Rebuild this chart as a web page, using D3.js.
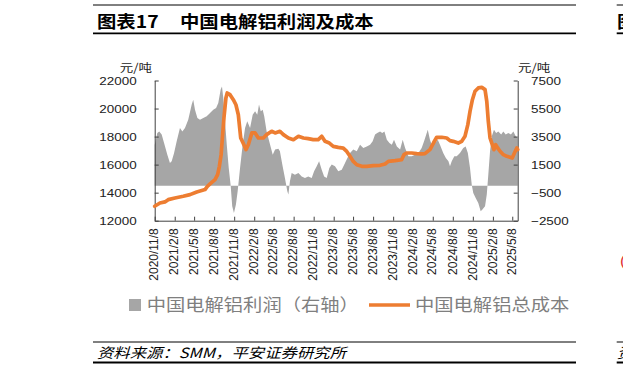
<!DOCTYPE html>
<html><head><meta charset="utf-8">
<script src="https://cdn.jsdelivr.net/npm/d3@7"></script>
<style>body{margin:0;background:#fff;} svg{display:block;}</style>
</head><body><svg id="c" width="623" height="374"></svg>
<script>
// ---------- data ----------
const costDates = ["2020-11-08","2020-12-02","2020-12-25","2021-01-09","2021-02-09","2021-03-19","2021-04-19","2021-05-20","2021-06-27","2021-07-08","2021-07-20","2021-08-12","2021-08-24","2021-09-01","2021-09-09","2021-09-16","2021-09-22","2021-10-01","2021-10-07","2021-10-20","2021-11-04","2021-11-16","2021-11-27","2021-12-08","2021-12-20","2022-01-01","2022-01-12","2022-01-28","2022-02-12","2022-02-27","2022-03-22","2022-04-06","2022-04-29","2022-05-15","2022-06-06","2022-06-22","2022-07-15","2022-08-07","2022-08-30","2022-09-22","2022-10-14","2022-11-06","2022-11-29","2022-12-15","2022-12-30","2023-01-19","2023-02-06","2023-03-01","2023-03-24","2023-04-09","2023-04-24","2023-05-09","2023-05-25","2023-06-17","2023-07-10","2023-08-09","2023-09-09","2023-10-02","2023-10-17","2023-11-17","2023-12-17","2023-12-28","2024-01-09","2024-02-01","2024-02-24","2024-03-18","2024-04-02","2024-04-25","2024-05-11","2024-05-26","2024-06-18","2024-07-11","2024-07-26","2024-08-10","2024-09-02","2024-09-18","2024-10-03","2024-10-16","2024-10-26","2024-11-06","2024-11-18","2024-12-03","2024-12-19","2025-01-03","2025-01-11","2025-01-18","2025-01-26","2025-02-03","2025-02-13","2025-02-21","2025-03-02","2025-03-13","2025-03-28","2025-04-13","2025-04-28","2025-05-08","2025-05-18","2025-05-29","2025-06-02"];
const costValues = [13030,13260,13340,13500,13620,13740,13860,14050,14220,14450,14620,14930,15290,15880,16710,18140,19330,20750,21110,20990,20630,20270,19560,17900,17500,17070,17420,18260,18260,17900,17900,18140,18380,18260,18380,18140,17900,17780,18020,17900,17850,17780,17780,18020,17660,17540,17300,17230,17180,16940,16590,16230,15990,15880,15880,15930,15950,16050,16230,16280,16350,16710,16830,16830,16780,16760,16780,17070,17540,17950,17950,17900,17710,17660,17540,17660,18020,18850,19800,20630,21230,21470,21510,21350,20510,19090,17900,17540,17070,17420,17190,16950,16710,16590,16520,16470,16830,17190,17070];

const profitDates = ["2020-11-08","2020-11-20","2020-11-29","2020-12-10","2020-12-21","2021-01-05","2021-01-17","2021-01-25","2021-02-05","2021-02-17","2021-03-04","2021-03-15","2021-03-27","2021-04-11","2021-04-27","2021-05-04","2021-05-12","2021-05-23","2021-06-04","2021-06-19","2021-07-05","2021-07-20","2021-08-04","2021-08-17","2021-08-27","2021-09-07","2021-09-13","2021-09-19","2021-09-27","2021-10-05","2021-10-14","2021-10-23","2021-10-30","2021-11-07","2021-11-16","2021-11-24","2021-12-05","2021-12-17","2021-12-28","2022-01-07","2022-01-20","2022-02-01","2022-02-12","2022-02-22","2022-03-02","2022-03-10","2022-03-19","2022-03-26","2022-04-06","2022-04-22","2022-05-04","2022-05-15","2022-05-30","2022-06-06","2022-06-17","2022-06-29","2022-07-10","2022-07-15","2022-07-22","2022-07-30","2022-08-14","2022-08-30","2022-09-14","2022-09-29","2022-10-14","2022-10-30","2022-11-10","2022-11-22","2022-12-03","2022-12-15","2022-12-26","2023-01-07","2023-01-19","2023-01-30","2023-02-14","2023-03-01","2023-03-17","2023-04-01","2023-04-12","2023-04-24","2023-05-09","2023-05-25","2023-06-09","2023-06-24","2023-07-10","2023-07-25","2023-08-06","2023-08-17","2023-08-27","2023-09-09","2023-09-19","2023-09-29","2023-10-10","2023-10-22","2023-11-02","2023-11-12","2023-11-25","2023-12-10","2023-12-22","2024-01-02","2024-01-17","2024-02-01","2024-02-17","2024-03-03","2024-03-18","2024-03-29","2024-04-15","2024-04-25","2024-05-03","2024-05-18","2024-05-31","2024-06-10","2024-06-25","2024-07-07","2024-07-19","2024-07-26","2024-08-03","2024-08-15","2024-08-26","2024-09-10","2024-09-25","2024-10-06","2024-10-16","2024-10-26","2024-11-03","2024-11-10","2024-11-21","2024-12-03","2024-12-14","2024-12-22","2025-01-03","2025-01-11","2025-01-18","2025-01-26","2025-02-03","2025-02-13","2025-02-23","2025-03-05","2025-03-18","2025-03-28","2025-04-08","2025-04-20","2025-05-02","2025-05-13","2025-05-24","2025-06-02"];
const profitValues = [2900,3750,3870,3640,3040,2210,1620,1740,2330,3160,4110,3870,4110,4700,5780,6130,5420,4830,4700,4830,4950,5180,5420,5540,5900,6850,7080,6250,4590,2920,1260,0,-1470,-1950,-1350,-400,1260,2920,4110,4590,4110,5060,5300,5060,5780,5300,5420,4950,3870,2920,2210,2570,2640,2450,1500,550,-400,-640,310,900,780,900,660,550,660,550,1020,1380,1740,1140,660,550,1260,1500,1380,1020,1140,1620,1970,2330,2570,2450,2920,2690,2800,2920,3160,3640,3750,3870,3750,3870,3280,3040,2920,3280,2800,2570,3280,2690,2090,2090,2210,2330,2690,3160,3990,3280,2920,3040,3280,2920,2330,1970,1740,1380,1740,2090,2090,2330,2690,2800,2330,1260,70,-520,-880,-1230,-1830,-1710,-1470,-640,780,2450,3520,3990,3750,3870,3640,3870,3640,3750,3640,3870,3520,3400];

const xTickLabels = ["2020/11/8","2021/2/8","2021/5/8","2021/8/8","2021/11/8","2022/2/8","2022/5/8","2022/8/8","2022/11/8","2023/2/8","2023/5/8","2023/8/8","2023/11/8","2024/2/8","2024/5/8","2024/8/8","2024/11/8","2025/2/8","2025/5/8"];
const leftTicks = [12000,14000,16000,18000,20000,22000];
const rightTicks = [-2500,-500,1500,3500,5500,7500];
const titleNo = "图表17";
const titleText = "中国电解铝利润及成本";
const unitLabel = "元/吨";
const seriesNames = ["中国电解铝利润（右轴）","中国电解铝总成本"];
const sourceText = "资料来源：SMM，平安证券研究所";

// ---------- drawing ----------
const svg = d3.select("#c");
const CJK = "'Noto Sans CJK SC','Noto Sans',sans-serif";
const NUM = "'Liberation Sans',Arial,sans-serif";
const SX = 1.17;
const GRAY = "#a6a6a6", ORANGE = "#ed7d31", AXIS = "#404040";
const M = {l:154.7, r:517.7, t:80.5, b:220.7};

const parse = d3.timeParse("%Y-%m-%d");
const parseTick = d3.timeParse("%Y/%m/%d");
const cost = costDates.map((d,i)=>({date:parse(d), v:costValues[i]}));
const profit = profitDates.map((d,i)=>({date:parse(d), v:profitValues[i]}));

const x = d3.scaleTime().domain([cost[0].date, cost[cost.length-1].date]).range([M.l, M.r]);
const yL = d3.scaleLinear().domain([12000,22000]).range([M.b, M.t]);
const yR = d3.scaleLinear().domain([-2500,7500]).range([M.b, M.t]);

function stext(str, px, py, size, opt={}) {
  return svg.append("text")
    .attr("transform", `translate(${px},${py}) scale(${opt.sx||SX},1)`)
    .attr("font-family", opt.family||CJK)
    .attr("font-size", size)
    .attr("font-weight", opt.weight||"normal")
    .attr("font-style", opt.style||"normal")
    .attr("fill", opt.fill||"#000")
    .attr("text-anchor", opt.anchor||"start")
    .text(str);
}
function hline(x1,x2,y,w){ svg.append("line").attr("x1",x1).attr("x2",x2).attr("y1",y).attr("y2",y).attr("stroke","#000").attr("stroke-width",w); }

// title block
hline(93,576,5,1); hline(93,576,33.3,1.8);
hline(616.7,623,5,1); hline(616.7,623,33.3,1.8);
stext(titleNo, 97, 28, 17, {weight:"bold", sx:1.14});
stext(titleText, 180, 28, 17, {weight:"bold", sx:1.14});
stext("图", 617, 28, 17, {weight:"bold", sx:1.14});

// area (profit, right axis)
svg.append("path").datum(profit)
  .attr("fill", GRAY)
  .attr("d", d3.area().x(d=>x(d.date)).y0(yR(0)).y1(d=>yR(d.v)));

// axes
function styleAxis(g){
  g.select(".domain").attr("stroke", AXIS);
  g.selectAll(".tick line").attr("stroke", AXIS);
}
const gL = svg.append("g").attr("transform",`translate(${M.l},0)`)
  .call(d3.axisLeft(yL).tickValues(leftTicks).tickSizeInner(-4).tickSizeOuter(0).tickPadding(15.4).tickFormat(d3.format("d")));
styleAxis(gL);
gL.selectAll(".tick text").attr("font-family",NUM).attr("font-size",11.5).attr("fill","#222").attr("transform",`scale(${SX},1)`);

const gR = svg.append("g").attr("transform",`translate(${M.r},0)`)
  .call(d3.axisRight(yR).tickValues(rightTicks).tickSizeInner(-4).tickSizeOuter(0).tickPadding(11.4).tickFormat(d3.format("d")));
styleAxis(gR);
gR.selectAll(".tick text").attr("font-family",NUM).attr("font-size",11.5).attr("fill","#222").attr("transform",`scale(${SX},1)`);

const gB = svg.append("g").attr("transform",`translate(0,${M.b})`)
  .call(d3.axisBottom(x).tickValues(xTickLabels.map(parseTick)).tickSizeInner(-4).tickSizeOuter(0).tickFormat((d,i)=>xTickLabels[i]));
styleAxis(gB);
gB.selectAll(".tick text")
  .attr("font-family",NUM).attr("font-size",12).attr("fill","#222")
  .attr("text-anchor","end").attr("transform","rotate(-90)")
  .attr("x",-7.5).attr("y",-1).attr("dy","0.35em");

// line (cost, left axis)
svg.append("path").datum(cost)
  .attr("fill","none").attr("stroke",ORANGE).attr("stroke-width",3.7)
  .attr("stroke-linejoin","round").attr("stroke-linecap","round")
  .attr("d", d3.line().x(d=>x(d.date)).y(d=>yL(d.v)));

// unit labels
stext(unitLabel, 152, 71.5, 11.5, {anchor:"end", fill:"#222"});
stext(unitLabel, 518, 71.5, 11.5, {fill:"#222"});

// legend
svg.append("rect").attr("x",129).attr("y",299).attr("width",12).attr("height",12).attr("fill",GRAY);
stext(seriesNames[0], 146.7, 311, 16.5, {fill:"#7f7f7f"});
svg.append("line").attr("x1",369).attr("x2",410).attr("y1",305).attr("y2",305).attr("stroke",ORANGE).attr("stroke-width",3.7);
stext(seriesNames[1], 415, 311, 16.5, {fill:"#7f7f7f"});

// source block
hline(93,576,342,1); hline(93,576,362.5,2);
hline(616.7,623,342,1); hline(616.7,623,362.5,2);
stext(sourceText, 97, 357.5, 14, {style:"italic"});
stext("资", 617, 357.5, 14, {style:"italic"});
stext("(", 620, 266, 14, {fill:"#e03030", family:NUM});
</script></body></html>
